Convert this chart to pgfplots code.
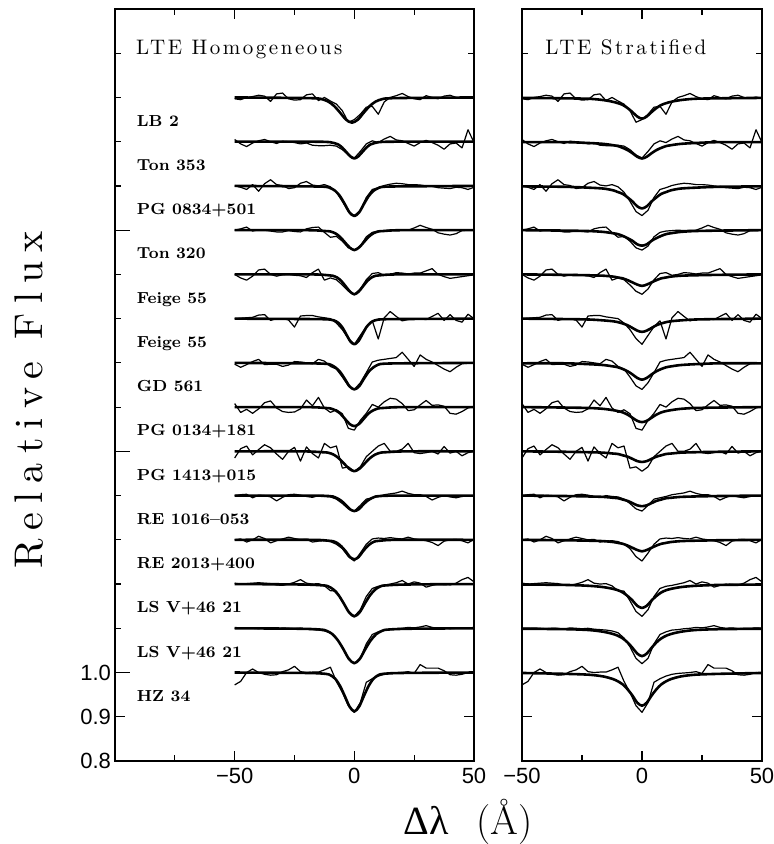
\documentclass[border=0pt]{standalone}
\usepackage{fontspec}
\setsansfont{Liberation Sans}
\newfontfamily\greekserif{Liberation Serif}
\newfontfamily\lmsp[LetterSpace=12]{lmroman10-regular.otf}
\newfontfamily\lmspy[LetterSpace=23]{lmroman10-regular.otf}
\usepackage{graphicx}
\usepackage{pgfplots}
\usepackage{pgfplotstable}
\pgfplotsset{compat=1.18}

\pgfplotstableread{
x o1 o2 o3 o4 o5 o6 o7 o8 o9 o10 o11 o12 o13 o14
-50 2.297 2.205 2.100 2.000 1.900 1.800 1.697 1.608 1.485 1.400 1.300 1.202 1.100 0.972
-47.5 2.295 2.195 2.097 2.003 1.892 1.801 1.690 1.588 1.506 1.402 1.302 1.200 1.100 0.980
-45 2.300 2.189 2.092 2.007 1.887 1.802 1.696 1.595 1.512 1.403 1.295 1.201 1.101 1.000
-42.5 2.302 2.197 2.103 1.998 1.896 1.803 1.703 1.586 1.492 1.395 1.300 1.202 1.100 1.008
-40 2.305 2.202 2.088 2.001 1.910 1.808 1.708 1.596 1.504 1.401 1.308 1.203 1.099 1.000
-37.5 2.303 2.205 2.105 2.000 1.912 1.809 1.696 1.610 1.515 1.400 1.303 1.202 1.100 0.996
-35 2.291 2.200 2.114 1.998 1.900 1.796 1.697 1.614 1.508 1.397 1.293 1.201 1.100 0.994
-32.5 2.308 2.196 2.103 1.996 1.896 1.800 1.697 1.598 1.494 1.388 1.298 1.198 1.098 0.995
-30 2.310 2.201 2.101 1.996 1.899 1.800 1.692 1.590 1.482 1.396 1.302 1.197 1.101 1.002
-27.5 2.297 2.200 2.094 1.999 1.900 1.797 1.695 1.588 1.500 1.402 1.306 1.200 1.100 1.006
-25 2.294 2.198 2.096 1.997 1.898 1.781 1.703 1.589 1.509 1.403 1.303 1.204 1.099 1.014
-22.5 2.295 2.195 2.106 1.996 1.897 1.806 1.702 1.596 1.478 1.401 1.300 1.210 1.100 1.002
-20 2.306 2.197 2.110 2.003 1.893 1.807 1.700 1.616 1.510 1.398 1.301 1.202 1.098 1.000
-17.5 2.308 2.192 2.102 2.006 1.904 1.807 1.698 1.603 1.495 1.396 1.295 1.200 1.097 1.001
-15 2.293 2.191 2.100 2.007 1.912 1.804 1.708 1.622 1.485 1.400 1.297 1.201 1.096 1.001
-12.5 2.300 2.191 2.103 1.995 1.887 1.802 1.704 1.598 1.518 1.398 1.298 1.196 1.094 1.006
-10 2.292 2.192 2.098 1.984 1.892 1.800 1.692 1.588 1.508 1.397 1.296 1.185 1.090 1.012
-7.5 2.285 2.190 2.086 1.986 1.888 1.790 1.686 1.594 1.512 1.392 1.290 1.184 1.078 0.980
-5 2.270 2.182 2.065 1.975 1.876 1.775 1.668 1.585 1.462 1.382 1.280 1.162 1.058 0.955
-2.5 2.244 2.170 2.042 1.960 1.862 1.755 1.648 1.552 1.465 1.370 1.262 1.138 1.032 0.925
0 2.250 2.163 2.033 1.955 1.855 1.742 1.640 1.548 1.455 1.365 1.252 1.127 1.020 0.910
2.5 2.262 2.178 2.045 1.964 1.867 1.762 1.655 1.570 1.465 1.378 1.270 1.142 1.032 0.932
5 2.278 2.195 2.074 1.985 1.888 1.782 1.678 1.586 1.488 1.392 1.290 1.172 1.065 0.978
7.5 2.280 2.202 2.092 1.995 1.902 1.795 1.702 1.606 1.500 1.395 1.302 1.190 1.086 0.986
10 2.262 2.198 2.096 1.998 1.904 1.754 1.706 1.600 1.512 1.398 1.304 1.195 1.092 0.992
12.5 2.290 2.206 2.101 1.999 1.898 1.802 1.708 1.612 1.518 1.402 1.303 1.197 1.096 0.996
15 2.300 2.212 2.104 2.000 1.900 1.816 1.710 1.620 1.500 1.404 1.305 1.200 1.097 0.998
17.5 2.304 2.204 2.106 1.999 1.904 1.805 1.712 1.618 1.500 1.406 1.303 1.203 1.099 0.999
20 2.309 2.202 2.105 2.000 1.903 1.795 1.724 1.608 1.505 1.410 1.302 1.208 1.100 1.000
22.5 2.302 2.196 2.103 2.000 1.901 1.798 1.708 1.592 1.518 1.405 1.306 1.200 1.102 1.002
25 2.297 2.190 2.103 2.005 1.903 1.800 1.692 1.594 1.497 1.402 1.302 1.205 1.101 0.998
27.5 2.295 2.198 2.102 2.011 1.903 1.799 1.718 1.605 1.495 1.402 1.300 1.202 1.103 1.018
30 2.304 2.203 2.100 2.006 1.908 1.798 1.708 1.615 1.497 1.398 1.298 1.193 1.106 1.010
32.5 2.300 2.198 2.099 2.002 1.913 1.805 1.702 1.604 1.500 1.390 1.294 1.197 1.102 1.010
35 2.297 2.192 2.096 1.994 1.900 1.812 1.694 1.605 1.494 1.396 1.287 1.200 1.100 1.010
37.5 2.303 2.183 2.095 1.991 1.895 1.796 1.686 1.602 1.511 1.400 1.297 1.199 1.101 1.004
40 2.305 2.195 2.094 1.989 1.891 1.809 1.680 1.586 1.496 1.397 1.300 1.198 1.099 0.995
42.5 2.300 2.197 2.097 1.992 1.893 1.796 1.690 1.584 1.500 1.395 1.301 1.202 1.100 0.994
45 2.298 2.186 2.096 1.999 1.895 1.792 1.698 1.590 1.490 1.398 1.298 1.210 1.100 0.996
47.5 2.301 2.227 2.092 2.000 1.897 1.810 1.699 1.598 1.497 1.399 1.293 1.215 1.101 1.000
50 2.298 2.198 2.097 2.001 1.899 1.800 1.700 1.602 1.500 1.400 1.301 1.205 1.100 0.999
}\obs

\pgfplotstableread{
x r1 r2 r3 r4 r5 r6 r7 r8 r9 r10 r11 r12 r13 r14
-50 2.299 2.199 2.099 2.000 1.900 1.800 1.699 1.600 1.500 1.400 1.300 1.199 1.099 0.999
-32 2.298 2.199 2.098 1.999 1.899 1.799 1.699 1.599 1.499 1.399 1.299 1.198 1.098 0.997
-22 2.297 2.197 2.096 1.998 1.898 1.798 1.697 1.598 1.498 1.398 1.298 1.196 1.096 0.995
-16 2.294 2.195 2.094 1.996 1.897 1.796 1.695 1.596 1.497 1.397 1.297 1.193 1.092 0.991
-12 2.290 2.192 2.090 1.993 1.895 1.794 1.692 1.593 1.495 1.395 1.295 1.189 1.087 0.985
-10 2.287 2.190 2.086 1.991 1.893 1.792 1.690 1.591 1.494 1.394 1.293 1.186 1.083 0.980
-8 2.283 2.186 2.082 1.987 1.891 1.789 1.686 1.588 1.491 1.391 1.291 1.181 1.077 0.973
-6 2.276 2.181 2.074 1.982 1.887 1.785 1.681 1.583 1.488 1.388 1.287 1.173 1.068 0.962
-4 2.267 2.174 2.065 1.976 1.882 1.779 1.674 1.576 1.483 1.383 1.282 1.163 1.056 0.948
-2 2.257 2.166 2.054 1.968 1.877 1.773 1.666 1.569 1.478 1.378 1.277 1.151 1.043 0.932
0 2.252 2.162 2.049 1.965 1.874 1.770 1.662 1.566 1.476 1.376 1.274 1.146 1.037 0.925
2 2.257 2.166 2.054 1.968 1.877 1.773 1.666 1.569 1.478 1.378 1.277 1.151 1.043 0.932
4 2.267 2.174 2.065 1.976 1.882 1.779 1.674 1.576 1.483 1.383 1.282 1.163 1.056 0.948
6 2.276 2.181 2.074 1.982 1.887 1.785 1.681 1.583 1.488 1.388 1.287 1.173 1.068 0.962
8 2.283 2.186 2.082 1.987 1.891 1.789 1.686 1.588 1.491 1.391 1.291 1.181 1.077 0.973
10 2.287 2.190 2.086 1.991 1.893 1.792 1.690 1.591 1.494 1.394 1.293 1.186 1.083 0.980
12 2.290 2.192 2.090 1.993 1.895 1.794 1.692 1.593 1.495 1.395 1.295 1.189 1.087 0.985
16 2.294 2.195 2.094 1.996 1.897 1.796 1.695 1.596 1.497 1.397 1.297 1.193 1.092 0.991
22 2.297 2.197 2.096 1.998 1.898 1.798 1.697 1.598 1.498 1.398 1.298 1.196 1.096 0.995
32 2.298 2.199 2.098 1.999 1.899 1.799 1.699 1.599 1.499 1.399 1.299 1.198 1.098 0.997
50 2.299 2.199 2.099 2.000 1.900 1.800 1.699 1.600 1.500 1.400 1.300 1.199 1.099 0.999
}\rmod

\pgfplotsset{
  spec/.style={
    scale only axis, height=376pt, ymin=0.8, ymax=2.5,
    axis line style={line width=0.75pt},
    tick style={line width=0.6pt, black},
    major tick length=5pt, minor tick length=3pt,
    tick label style={font=\sffamily\fontsize{11}{13}\selectfont},
    yticklabel style={xshift=1.5pt},
    ytick={0.8,0.9},
    minor ytick={1.1,1.2,1.3,1.4,1.6,1.7,1.8,1.9,2.1,2.2,2.3,2.4},
    extra y ticks={1.0,1.5,2.0},
    extra y tick style={major tick length=7.5pt},
    anchor=south west,
  },
  obs/.style={black, line width=0.6pt, line join=round, mark=none},
  mod/.style={black, line width=1.3pt, smooth, line join=round, mark=none},
}

\newcommand\starlab[2]{\node[anchor=base west, inner sep=0pt, font=\bfseries\fontsize{8}{10}\selectfont] at (axis cs:-91,#1) {#2};}

\begin{document}
\begin{tikzpicture}
\useasboundingbox (-57.5pt,-41.5pt) rectangle (329.5pt,380.5pt);
% ---------------- left panel ----------------
\begin{axis}[spec, width=179.5pt, at={(0pt,0pt)},
  xmin=-100, xmax=50,
  xtick={-50,0,50}, xticklabels={−50,0,50},
  minor xtick={-75,-25,25},
  yticklabels={0.8,0.9},
  extra y tick labels={1.0,{},{}},
]
\pgfplotsinvokeforeach{1,...,14}{\addplot[obs] table[x=x,y=o#1]{\obs};}
\addplot[mod] coordinates {(-50,2.300)(-26,2.299)(-16,2.298)(-13.5,2.296)(-11,2.291)(-8.5,2.281)(-6,2.266)(-3.5,2.250)(-1,2.243)(1.5,2.250)(4,2.266)(6.5,2.281)(9,2.291)(11.5,2.296)(14,2.298)(24,2.299)(50,2.300)};
\addplot[mod] coordinates {(-50,2.200)(-17,2.200)(-10.2,2.199)(-8.5,2.197)(-6.8,2.194)(-5.1,2.187)(-3.4,2.177)(-1.7,2.167)(0,2.162)(1.7,2.167)(3.4,2.177)(5.1,2.187)(6.8,2.194)(8.5,2.197)(10.2,2.199)(17,2.200)(50,2.200)};
\addplot[mod] coordinates {(-50,2.100)(-20,2.099)(-12,2.098)(-10,2.095)(-8,2.089)(-6,2.077)(-4,2.059)(-2,2.040)(0,2.032)(2,2.040)(4,2.059)(6,2.077)(8,2.089)(10,2.095)(12,2.098)(20,2.099)(50,2.100)};
\addplot[mod] coordinates {(-50,2.000)(-20,2.000)(-12,1.998)(-10,1.997)(-8,1.993)(-6,1.985)(-4,1.973)(-2,1.961)(0,1.955)(2,1.961)(4,1.973)(6,1.985)(8,1.993)(10,1.997)(12,1.998)(20,2.000)(50,2.000)};
\addplot[mod] coordinates {(-50,1.900)(-18,1.900)(-10.8,1.898)(-9,1.897)(-7.2,1.893)(-5.4,1.885)(-3.6,1.873)(-1.8,1.861)(0,1.855)(1.8,1.861)(3.6,1.873)(5.4,1.885)(7.2,1.893)(9,1.897)(10.8,1.898)(18,1.900)(50,1.900)};
\addplot[mod] coordinates {(-50,1.800)(-17,1.799)(-10.2,1.798)(-8.5,1.796)(-6.8,1.791)(-5.1,1.781)(-3.4,1.765)(-1.7,1.749)(0,1.742)(1.7,1.749)(3.4,1.765)(5.1,1.781)(6.8,1.791)(8.5,1.796)(10.2,1.798)(17,1.799)(50,1.800)};
\addplot[mod] coordinates {(-50,1.700)(-20,1.699)(-12,1.698)(-10,1.696)(-8,1.690)(-6,1.680)(-4,1.664)(-2,1.647)(0,1.640)(2,1.647)(4,1.664)(6,1.680)(8,1.690)(10,1.696)(12,1.698)(20,1.699)(50,1.700)};
\addplot[mod] coordinates {(-50,1.600)(-20,1.600)(-12,1.598)(-10,1.597)(-8,1.593)(-6,1.586)(-4,1.574)(-2,1.562)(0,1.557)(2,1.562)(4,1.574)(6,1.586)(8,1.593)(10,1.597)(12,1.598)(20,1.600)(50,1.600)};
\addplot[mod] coordinates {(-50,1.500)(-22,1.500)(-13.2,1.498)(-11,1.497)(-8.8,1.493)(-6.6,1.485)(-4.4,1.473)(-2.2,1.461)(0,1.455)(2.2,1.461)(4.4,1.473)(6.6,1.485)(8.8,1.493)(11,1.497)(13.2,1.498)(22,1.500)(50,1.500)};
\addplot[mod] coordinates {(-50,1.400)(-18,1.400)(-10.8,1.399)(-9,1.398)(-7.2,1.394)(-5.4,1.388)(-3.6,1.379)(-1.8,1.369)(0,1.365)(1.8,1.369)(3.6,1.379)(5.4,1.388)(7.2,1.394)(9,1.398)(10.8,1.399)(18,1.400)(50,1.400)};
\addplot[mod] coordinates {(-50,1.300)(-18,1.300)(-10.8,1.298)(-9,1.297)(-7.2,1.293)(-5.4,1.285)(-3.6,1.274)(-1.8,1.261)(0,1.256)(1.8,1.261)(3.6,1.274)(5.4,1.285)(7.2,1.293)(9,1.297)(10.8,1.298)(18,1.300)(50,1.300)};
\addplot[mod] coordinates {(-50,1.200)(-22,1.199)(-13.2,1.197)(-11,1.195)(-8.8,1.188)(-6.6,1.175)(-4.4,1.156)(-2.2,1.136)(0,1.127)(2.2,1.136)(4.4,1.156)(6.6,1.175)(8.8,1.188)(11,1.195)(13.2,1.197)(22,1.199)(50,1.200)};
\addplot[mod] coordinates {(-50,1.100)(-23,1.099)(-13.8,1.097)(-11.5,1.094)(-9.2,1.087)(-6.9,1.073)(-4.6,1.053)(-2.3,1.031)(0,1.021)(2.3,1.031)(4.6,1.053)(6.9,1.073)(9.2,1.087)(11.5,1.094)(13.8,1.097)(23,1.099)(50,1.100)};
\addplot[mod] coordinates {(-50,1.000)(-20,0.999)(-12,0.997)(-10,0.994)(-8,0.986)(-6,0.970)(-4,0.947)(-2,0.923)(0,0.912)(2,0.923)(4,0.947)(6,0.970)(8,0.986)(10,0.994)(12,0.997)(20,0.999)(50,1.000)};
\node[anchor=base west, inner sep=0pt, font=\lmsp\fontsize{10.5}{12}\selectfont] at (axis cs:-91.3,2.396) {LTE Homogeneous};
\starlab{2.235}{LB 2}
\starlab{2.135}{Ton 353}
\starlab{2.035}{PG 0834+501}
\starlab{1.935}{Ton 320}
\starlab{1.835}{Feige 55}
\starlab{1.735}{Feige 55}
\starlab{1.635}{GD 561}
\starlab{1.535}{PG 0134+181}
\starlab{1.435}{PG 1413+015}
\starlab{1.335}{RE 1016\textendash053}
\starlab{1.235}{RE 2013+400}
\starlab{1.135}{LS V+46 21}
\starlab{1.035}{LS V+46 21}
\starlab{0.935}{HZ 34}
\end{axis}
% ---------------- right panel ----------------
\begin{axis}[spec, width=120pt, at={(203.5pt,0pt)},
  xmin=-50, xmax=50,
  xtick={-50,0,50}, xticklabels={−50,0,50},
  minor xtick={-25,25},
  yticklabels={}, extra y tick labels={},
]
\pgfplotsinvokeforeach{1,...,14}{\addplot[obs] table[x=x,y=o#1]{\obs};}
\pgfplotsinvokeforeach{1,...,14}{\addplot[mod] table[x=x,y=r#1]{\rmod};}
\node[anchor=base west, inner sep=0pt, font=\lmsp\fontsize{10.5}{12}\selectfont] at (axis cs:-40.4,2.396) {LTE Stratified};
\end{axis}
% ---------------- axis titles ----------------
\node[rotate=90, anchor=center, inner sep=0pt, font=\lmspy\fontsize{20}{24}\selectfont] at (-43pt,180.5pt) {Relative Flux};
\node[anchor=base, inner sep=0pt, font=\fontsize{20}{24}\selectfont] at (176.5pt,-36.5pt) {{\greekserif Δλ}\hspace{0.7em}(\AA)};
\end{tikzpicture}
\end{document}
